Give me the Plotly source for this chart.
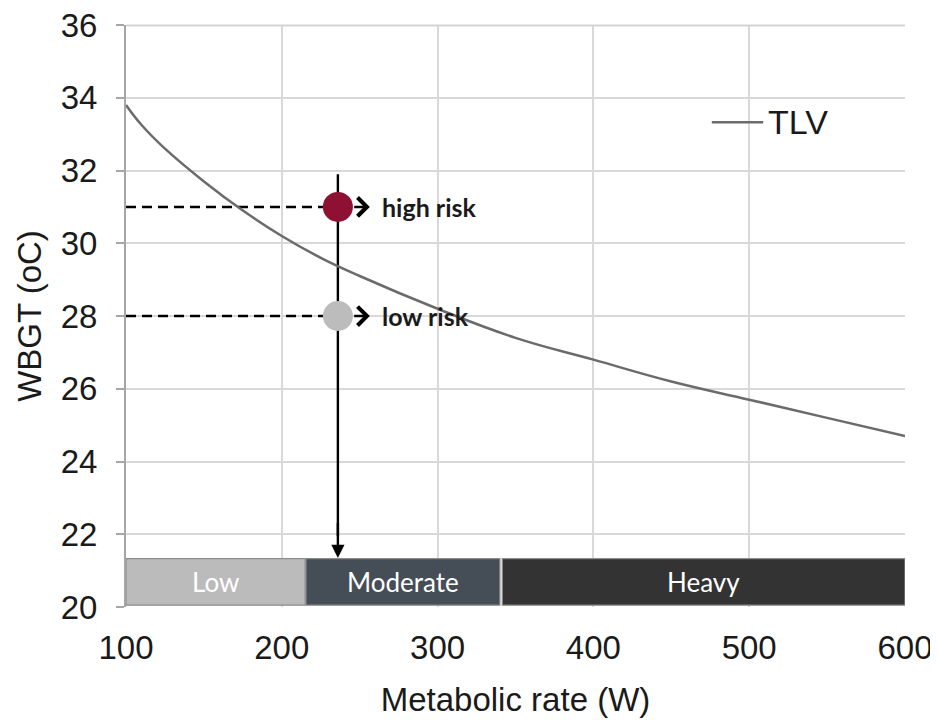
import plotly.graph_objects as go

# TLV curve
metabolic = [100, 110, 125, 150, 175, 200, 225, 250, 300, 350, 400, 450, 500, 550, 600]
wbgt_tlv = [33.8, 33.25, 32.6, 31.7, 30.9, 30.2, 29.6, 29.1, 28.2, 27.4, 26.8, 26.2, 25.7, 25.2, 24.7]

# Work-load categories
cat_names = ["Low", "Moderate", "Heavy"]
cat_start = [100, 215.5, 341.5]
cat_end = [215, 340, 600]
cat_colors = ["#BBBBBB", "#454D57", "#333333"]

# Risk points
risk_x = 236
risk_y = [31, 28]
risk_labels = ["high risk", "low risk"]
risk_colors = ["#8E1033", "#BCBCBC"]
vline_top = 31.9
vline_tip = 21.35

fig = go.Figure()

fig.add_trace(go.Scatter(
    x=metabolic, y=wbgt_tlv, mode="lines", name="TLV",
    line=dict(color="#6B6B6B", width=2.5, shape="spline", smoothing=1.2),
    showlegend=False))

shapes = []
annotations = []

# top gridline (range end)
shapes.append(dict(type="line", xref="paper", yref="paper", x0=0, x1=1, y0=0.999, y1=0.999,
                   line=dict(color="#D4D4D4", width=2), layer="above"))

# vertical line (under markers) + arrowhead
shapes.append(dict(type="line", xref="x", yref="y", x0=risk_x, x1=risk_x, y0=vline_top, y1=vline_tip + 0.6,
                   line=dict(color="black", width=2.4), layer="between"))
annotations.append(dict(x=risk_x, y=vline_tip, ax=risk_x, ay=vline_tip + 1.0, xref="x", yref="y",
                        axref="x", ayref="y", showarrow=True, arrowhead=2, arrowsize=1.1,
                        arrowwidth=2.4, arrowcolor="black", text=""))

# dashed lines and chevron arrowheads
for yv in risk_y:
    shapes.append(dict(type="line", xref="x", yref="y", x0=100, x1=risk_x, y0=yv, y1=yv,
                       line=dict(color="black", width=2.5, dash="10px,6px"), layer="between"))
    annotations.append(dict(x=256.5, y=yv, ax=245.5, ay=yv, xref="x", yref="y", axref="x", ayref="y",
                            showarrow=True, arrowhead=4, arrowsize=1.45, arrowwidth=2.5,
                            arrowcolor="black", text=""))

fig.add_trace(go.Scatter(
    x=[risk_x] * len(risk_y), y=risk_y, mode="markers",
    marker=dict(size=30, color=risk_colors, line=dict(width=0)),
    showlegend=False, hoverinfo="skip"))

for yv, lab in zip(risk_y, risk_labels):
    annotations.append(dict(x=263, y=yv, xref="x", yref="y", text="<b>" + lab + "</b>",
                            showarrow=False, xanchor="left", yanchor="middle",
                            font=dict(family="Lato, Open Sans", size=25, color="#1a1a1a")))

# category bars
for name, s, e, c in zip(cat_names, cat_start, cat_end, cat_colors):
    shapes.append(dict(type="rect", xref="x", yref="y", x0=s, x1=e, y0=20.05, y1=21.33,
                       fillcolor=c, line=dict(color="#8C8C8C", width=1.2), layer="above"))
    annotations.append(dict(x=(s + e) / 2, y=20.69, xref="x", yref="y", text=name, showarrow=False,
                            font=dict(family="Lato, Open Sans", size=26, color="white")))

# manual legend
shapes.append(dict(type="line", xref="paper", yref="paper", x0=0.752, x1=0.818, y0=0.833, y1=0.833,
                   line=dict(color="#6B6B6B", width=2.5)))
annotations.append(dict(x=0.822, y=0.833, xref="paper", yref="paper", text="TLV", showarrow=False,
                        xanchor="left", yanchor="middle",
                        font=dict(family="Liberation Sans, Arial", size=34, color="#1a1a1a")))

# page body has an 8px margin, so the figure is sized to fit the 938x724 window
fig.update_layout(
    width=930, height=716,
    margin=dict(l=118, r=33, t=17, b=117),
    paper_bgcolor="white", plot_bgcolor="white",
    shapes=shapes, annotations=annotations, showlegend=False,
    font=dict(family="Liberation Sans, Arial", color="#1a1a1a"),
    xaxis=dict(range=[100, 600], tickvals=[100, 200, 300, 400, 500, 600],
               showgrid=True, gridcolor="#D9D9D9", gridwidth=2,
               tickfont=dict(size=33), ticks="", zeroline=False, automargin=False,
               ticklabelstandoff=18, ticklabeloverflow="allow",
               title=dict(text="Metabolic rate (W)", font=dict(size=33), standoff=22)),
    yaxis=dict(range=[20, 36], tickvals=list(range(20, 37, 2)),
               showgrid=True, gridcolor="#D9D9D9", gridwidth=2,
               showline=True, linecolor="#A6A6A6", linewidth=2,
               ticks="outside", ticklen=8, tickcolor="#A6A6A6", tickwidth=2,
               tickfont=dict(size=33), zeroline=False, automargin=False,
               ticklabelstandoff=12, ticklabeloverflow="allow",
               title=dict(text="WBGT (oC)", font=dict(size=33), standoff=9)),
)

fig.write_html("out.html")
